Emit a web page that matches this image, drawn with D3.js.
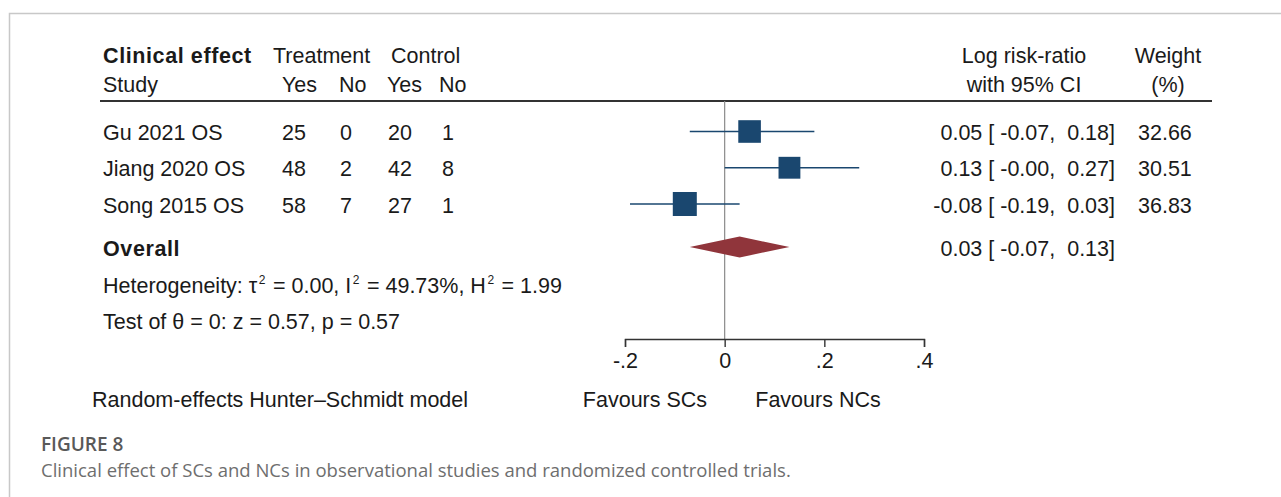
<!DOCTYPE html>
<html>
<head>
<meta charset="utf-8">
<script src="https://cdn.jsdelivr.net/npm/d3@7"></script>
<style>
  html, body { margin: 0; padding: 0; background: #fff; }
  svg { display: block; }
  .tx { font-family: "Liberation Sans", Arial, sans-serif; fill: #1a1a1a; }
  .cap { font-family: "Open Sans", "Noto Sans", sans-serif; }
</style>
</head>
<body>
<svg id="chart" width="1281" height="497"></svg>
<script>
// Study rows
const studies = ["Gu 2021 OS", "Jiang 2020 OS", "Song 2015 OS"];
const treatYes = [25, 48, 58];
const treatNo = [0, 2, 7];
const ctrlYes = [20, 42, 27];
const ctrlNo = [1, 8, 1];
const logRR = [0.05, 0.13, -0.08];
const ciLow = [-0.07, -0.00, -0.19];
const ciHigh = [0.18, 0.27, 0.03];
const weights = [32.66, 30.51, 36.83];

// Pooled estimate
const overallEst = 0.03;
const overallLow = -0.07;
const overallHigh = 0.13;

// Axis
const axisTicks = [-0.2, 0, 0.2, 0.4];

const navy = "#1a476f";
const maroon = "#90353b";
const font = 21.5;

const svg = d3.select("#chart");

// Page frame
svg.append("path")
  .attr("d", "M9.5,497 V13.5 H1281")
  .attr("fill", "none").attr("stroke", "#c8c8c8").attr("stroke-width", 1.5);

const x = d3.scaleLinear().domain([-0.2, 0.4]).range([625, 924]);

const rowY = d3.scalePoint().domain(d3.range(studies.length)).range([131.5, 204]);
const overallY = 247;
const axisY = 339;
const topY = 101;

function text(str, px, py, opts = {}) {
  return svg.append("text")
    .attr("class", "tx")
    .attr("x", px).attr("y", py)
    .attr("font-size", opts.size || font)
    .attr("font-weight", opts.bold ? "bold" : null)
    .attr("letter-spacing", opts.bold ? 0.6 : null)
    .attr("text-anchor", opts.anchor || "start")
    .attr("xml:space", "preserve")
    .style("white-space", "pre")
    .text(str);
}

// Column headers
text("Clinical effect", 103, 63, { bold: true });
text("Treatment", 273, 63);
text("Control", 391, 63);
text("Study", 103, 92);
text("Yes", 282, 92);
text("No", 339, 92);
text("Yes", 387, 92);
text("No", 439, 92);
text("Log risk-ratio", 1024, 63, { anchor: "middle" });
text("with 95% CI", 1024, 92, { anchor: "middle" });
text("Weight", 1168, 63, { anchor: "middle" });
text("(%)", 1168, 92, { anchor: "middle" });

svg.append("line")
  .attr("x1", 100).attr("x2", 1212).attr("y1", topY).attr("y2", topY)
  .attr("stroke", "#333").attr("stroke-width", 2);

// Reference line at zero
svg.append("line")
  .attr("x1", x(0)).attr("x2", x(0)).attr("y1", topY).attr("y2", axisY)
  .attr("stroke", "#8a8a8a").attr("stroke-width", 1.2);

// Fixed two-decimal format with a plain hyphen, keeping the sign of -0.00
const f2 = v => ((v < 0 || Object.is(v, -0)) ? "-" : "") + Math.abs(v).toFixed(2);
const fmtCI = (e, l, h) => `${f2(e)} [ ${f2(l)},  ${f2(h)}]`;

studies.forEach((name, i) => {
  const cy = rowY(i);
  const by = cy + 8.5;
  text(name, 103, by);
  text(String(treatYes[i]), 282, by);
  text(String(treatNo[i]), 340, by);
  text(String(ctrlYes[i]), 388, by);
  text(String(ctrlNo[i]), 442, by);
  text(fmtCI(logRR[i], ciLow[i], ciHigh[i]), 1115, by, { anchor: "end" });
  text(f2(weights[i]), 1138, by);
});

// CI whiskers
svg.append("g").selectAll("line").data(studies).join("line")
  .attr("x1", (d, i) => x(ciLow[i])).attr("x2", (d, i) => x(ciHigh[i]))
  .attr("y1", (d, i) => rowY(i)).attr("y2", (d, i) => rowY(i))
  .attr("stroke", navy).attr("stroke-width", 1.6);

// Weighted squares
const side = d3.scaleSqrt().domain([0, d3.max(weights)]).range([0, 24]);
svg.append("g").selectAll("rect").data(studies).join("rect")
  .attr("x", (d, i) => x(logRR[i]) - side(weights[i]) / 2)
  .attr("y", (d, i) => rowY(i) - side(weights[i]) / 2)
  .attr("width", (d, i) => side(weights[i]))
  .attr("height", (d, i) => side(weights[i]))
  .attr("fill", navy);

// Overall diamond
svg.append("path")
  .attr("d", `M${x(overallLow)},${overallY} L${x(overallEst)},${overallY - 10.5} L${x(overallHigh)},${overallY} L${x(overallEst)},${overallY + 10.5} Z`)
  .attr("fill", maroon);

text("Overall", 103, overallY + 9, { bold: true });
text(fmtCI(overallEst, overallLow, overallHigh), 1115, overallY + 9, { anchor: "end" });

// Heterogeneity line with superscripts
const het = svg.append("text").attr("class", "tx").attr("x", 103).attr("y", 293)
  .attr("font-size", font).attr("xml:space", "preserve").style("white-space", "pre");
const parts = [
  ["Heterogeneity: τ", false], ["2", true], [" = 0.00, I", false], ["2", true],
  [" = 49.73%, H", false], ["2", true], [" = 1.99", false]
];
let sup = false;
parts.forEach(([s, isSup]) => {
  const t = het.append("tspan").text(s);
  if (isSup) { t.attr("font-size", 12).attr("dy", -9).attr("dx", 1.5); sup = true; }
  else if (sup) { t.attr("dy", 9).attr("dx", 1.5); sup = false; }
});

text("Test of θ = 0: z = 0.57, p = 0.57", 103, 329);

// X axis
const axis = d3.axisBottom(x)
  .tickValues(axisTicks)
  .tickSize(8)
  .tickPadding(6)
  .tickFormat(d => d === 0 ? "0" : ((d < 0 ? "-" : "") + Math.abs(d).toFixed(1).replace(/^0/, "")));
const gAxis = svg.append("g").attr("transform", `translate(0,${axisY})`).call(axis);
gAxis.select(".domain").attr("stroke", "#333").attr("stroke-width", 1.4);
gAxis.selectAll(".tick line").attr("stroke", "#333").attr("stroke-width", 1.4);
gAxis.selectAll(".tick text")
  .attr("class", "tx")
  .attr("font-size", font)
  .attr("fill", "#1a1a1a");

text("Favours SCs", 645, 407, { anchor: "middle" });
text("Favours NCs", 818, 407, { anchor: "middle" });
text("Random-effects Hunter–Schmidt model", 92, 407);

// Caption
svg.append("text").attr("class", "cap")
  .attr("x", 41).attr("y", 451).attr("font-size", 19).attr("font-weight", 600)
  .attr("fill", "#595959").text("FIGURE 8");
svg.append("text").attr("class", "cap")
  .attr("x", 41).attr("y", 477).attr("font-size", 18.5)
  .attr("fill", "#6e6e6e").text("Clinical effect of SCs and NCs in observational studies and randomized controlled trials.");
</script>
</body>
</html>
